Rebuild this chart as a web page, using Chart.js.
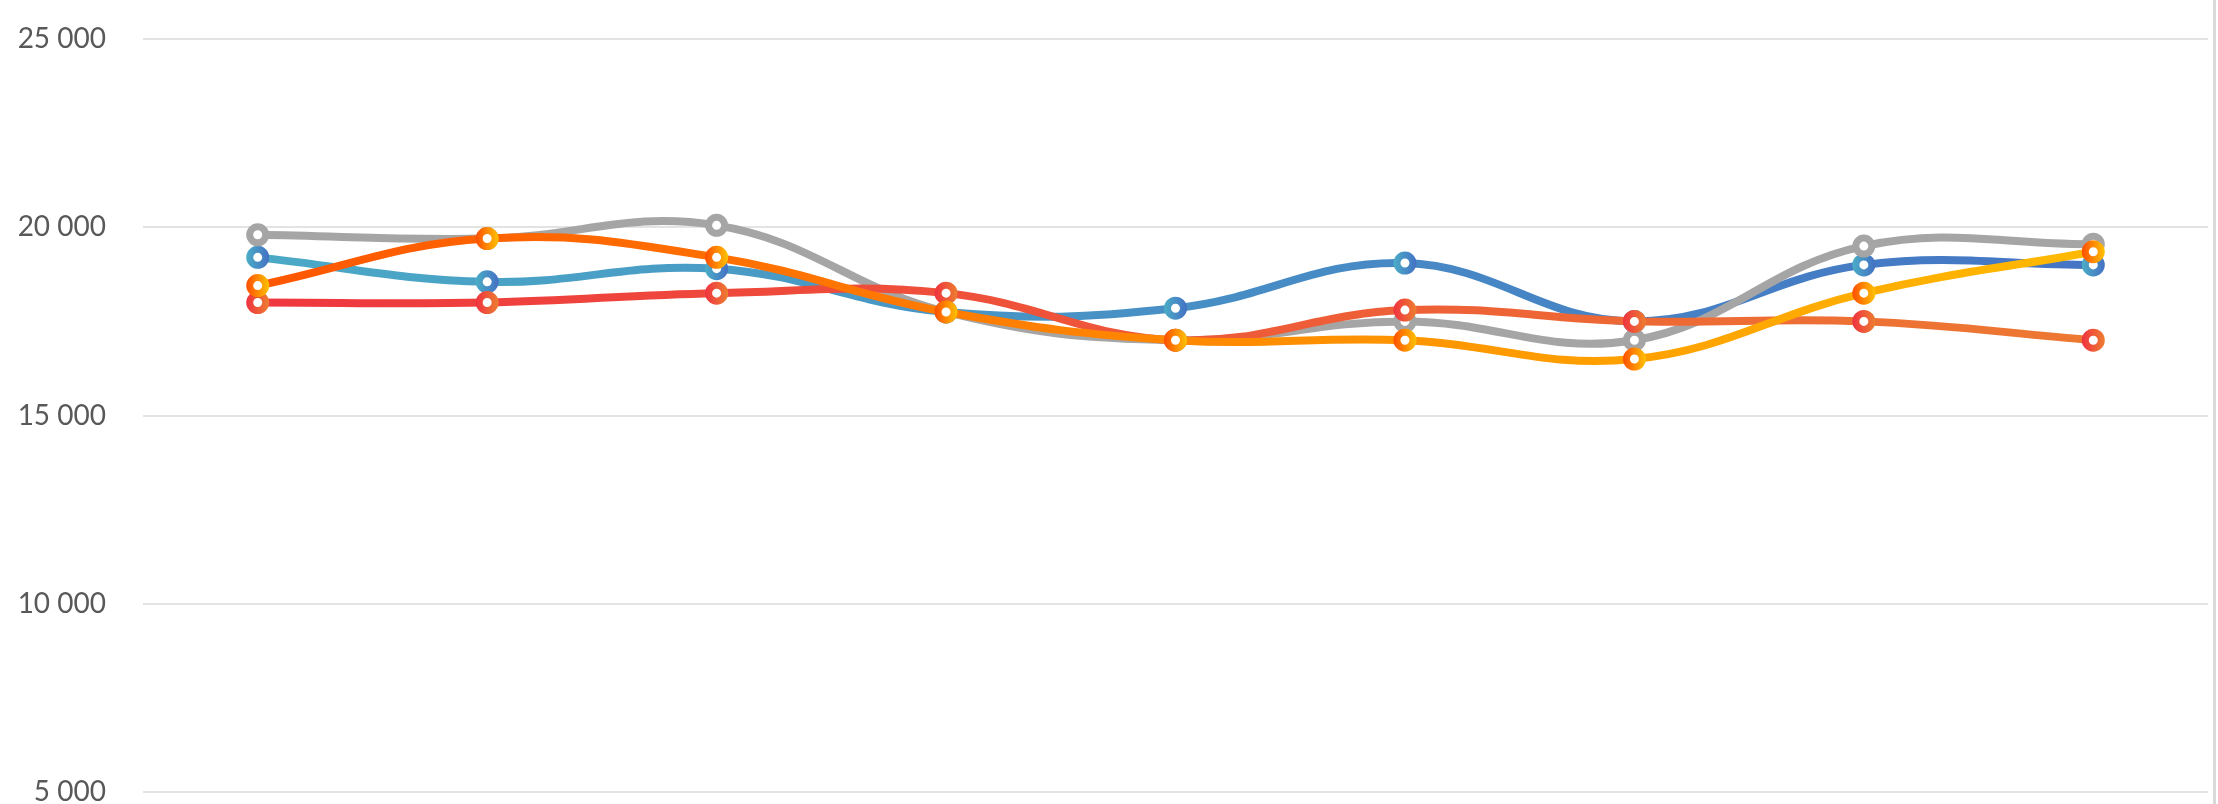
<!DOCTYPE html>
<html>
<head>
<meta charset="utf-8">
<title>Line chart</title>
<script src="https://cdn.jsdelivr.net/npm/chart.js@4/dist/chart.umd.min.js"></script>
<style>
    html, body { margin: 0; padding: 0; background: #ffffff; overflow: hidden; width: 2218px; height: 804px; }
    #wrap { position: absolute; left: 0; top: 0; width: 2212px; height: 804px; }
    #edge { position: absolute; left: 2213px; top: 0; width: 3px; height: 804px; background: #d9d9d9; }
    canvas { display: block; }
</style>
</head>
<body>
<div id="wrap"><canvas id="lineChart" width="2212" height="804"></canvas></div>
<div id="edge"></div>
<script>
// Chart data
const categories = ['1', '2', '3', '4', '5', '6', '7', '8', '9'];

const blueValues   = [19200, 18550, 18900, 17750, 17850, 19050, 17500, 19000, 19000];
const redValues    = [18000, 18000, 18250, 18250, 17000, 17800, 17500, 17500, 17000];
const orangeValues = [18450, 19700, 19200, 17750, 17000, 17000, 16500, 18250, 19350];
const grayValues   = [19800, 19700, 20050, 17750, 17000, 17500, 17000, 19500, 19550];

const yTickValues = [5000, 10000, 15000, 20000, 25000];
const yTickLabels = ['5 000', '10 000', '15 000', '20 000', '25 000'];

// colour pairs: left -> right
const blueColors   = ['#4BACC6', '#4472C4'];
const redColors    = ['#EF3340', '#ED7D31'];
const orangeColors = ['#FF5000', '#FFC000'];
const grayColors   = ['#A5A5A5', '#A5A5A5'];

// gradient across the plot area for the line itself
function lineGradient(colors) {
    return function(context) {
        const chart = context.chart;
        const area = chart.chartArea;
        if (!area) return colors[0];
        const g = chart.ctx.createLinearGradient(area.left, 0, area.right, 0);
        g.addColorStop(0, colors[0]);
        g.addColorStop(1, colors[1]);
        return g;
    };
}

// small gradient across each marker
function pointGradient(colors) {
    return function(context) {
        const chart = context.chart;
        if (!chart.chartArea || !chart.scales.x) return colors[0];
        const x = chart.scales.x.getPixelForValue(context.dataIndex);
        const g = chart.ctx.createLinearGradient(x - 11, 0, x + 11, 0);
        g.addColorStop(0, colors[0]);
        g.addColorStop(1, colors[1]);
        return g;
    };
}

function makeDataset(label, values, colors) {
    return {
        label: label,
        data: values,
        borderColor: lineGradient(colors),
        borderWidth: 8,
        tension: 0.4,
        fill: false,
        pointRadius: 8,
        pointHoverRadius: 8,
        pointBorderWidth: 7,
        pointBackgroundColor: '#ffffff',
        pointBorderColor: pointGradient(colors)
    };
}

document.addEventListener('DOMContentLoaded', () => {
    const canvas = document.getElementById('lineChart');

    new Chart(canvas, {
        type: 'line',
        data: {
            labels: categories,
            // first dataset is painted on top
            datasets: [
                makeDataset('Series 3', orangeValues, orangeColors),
                makeDataset('Series 2', redValues, redColors),
                makeDataset('Series 4', grayValues, grayColors),
                makeDataset('Series 1', blueValues, blueColors)
            ]
        },
        options: {
            responsive: false,
            animation: false,
            devicePixelRatio: 1,
            layout: {
                autoPadding: false,
                padding: { top: 39, bottom: 12, left: 0, right: 4 }
            },
            plugins: {
                legend: { display: false },
                tooltip: { enabled: false }
            },
            scales: {
                x: {
                    type: 'category',
                    offset: true,
                    display: false
                },
                y: {
                    min: 5000,
                    max: 25000,
                    afterBuildTicks: function(scale) {
                        scale.ticks = yTickValues.map(v => ({ value: v }));
                    },
                    afterFit: function(scale) {
                        scale.width = 143;
                        scale.paddingTop = 0;
                        scale.paddingBottom = 0;
                    },
                    border: { display: false },
                    grid: {
                        color: '#e3e3e3',
                        lineWidth: 2,
                        drawTicks: false
                    },
                    ticks: {
                        padding: 37,
                        color: '#595959',
                        font: { family: 'Lato', size: 28 },
                        callback: function(value) {
                            const i = yTickValues.indexOf(value);
                            return i >= 0 ? yTickLabels[i] : '';
                        }
                    }
                }
            }
        }
    });
});
</script>
</body>
</html>
